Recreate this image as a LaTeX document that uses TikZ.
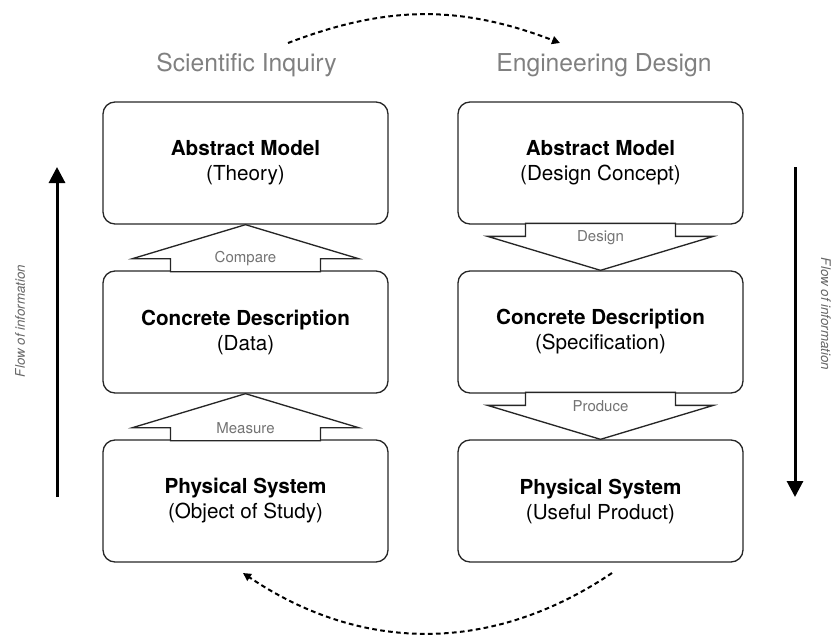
\documentclass[tikz,border=0pt]{standalone}
\usepackage{fontspec}
\setmainfont{TeX Gyre Heros}
\usepackage{tikz}
\usetikzlibrary{positioning, calc, arrows.meta}

\begin{document}
\begin{tikzpicture}[x = 0.75pt, y = -0.75pt, node distance = 34.25pt]

  \tikzstyle{module}=[rounded corners = 9pt, draw = black!85, line width = 1pt, minimum width = 213.75pt, minimum height = 91.5pt, align = center, inner sep = 0pt, font = \fontsize{15.5}{18.75}\selectfont]
  \tikzstyle{heading}=[text = black!50, font = \fontsize{18.5}{22}\selectfont, anchor = base]
  \tikzstyle{blockarrow}=[draw = black!85, line width = 1pt, fill = white, line join = miter]
  \tikzstyle{steplabel}=[text = black!55, font = \fontsize{11.25}{13}\selectfont, inner sep = 0pt]
  \tikzstyle{flow}=[line width = 2.25pt, -{Triangle[length = 12pt, width = 12pt]}]
  \tikzstyle{flowtext}=[text = black!60, font = \fontsize{10}{12}\selectfont\itshape]
  \tikzstyle{handover}=[dash pattern = on 3.5pt off 2.5pt, line width = 1.5pt, -{Triangle[length = 6pt, width = 6pt]}]

  \useasboundingbox (0, 0) rectangle (833, 636);

  \node [module] (sci-abs) at (245.5, 163) {\textbf{Abstract Model}\\(Theory)};
  \node [module, below = of sci-abs] (sci-conc) {\textbf{Concrete Description}\\(Data)};
  \node [module, below = of sci-conc] (sci-phys) {\textbf{Physical System}\\(Object of Study)};

  \node [module, right = 51.5pt of sci-abs] (eng-abs) {\textbf{Abstract Model}\\(Design Concept)};
  \node [module, below = of eng-abs] (eng-conc) {\textbf{Concrete Description}\\(Specification)};
  \node [module, below = of eng-conc] (eng-phys) {\textbf{Physical System}\\(Useful Product)};

  \node [heading] (sci-title) at (246.5, 71) {Scientific Inquiry};
  \node [heading] (eng-title) at (604, 71) {Engineering Design};

  % block arrows between the boxes
  \draw [blockarrow] (sci-abs.south) -- ++(113, 34) -- ++(-38, 0) -- ++(0, 13) -- ++(-150, 0) -- ++(0, -13) -- ++(-38, 0) -- cycle;
  \draw [blockarrow] (sci-conc.south) -- ++(113, 34) -- ++(-38, 0) -- ++(0, 13) -- ++(-150, 0) -- ++(0, -13) -- ++(-38, 0) -- cycle;
  \draw [blockarrow] (eng-conc.north) -- ++(113, -34) -- ++(-38, 0) -- ++(0, -13) -- ++(-150, 0) -- ++(0, 13) -- ++(-38, 0) -- cycle;
  \draw [blockarrow] (eng-phys.north) -- ++(113, -34) -- ++(-38, 0) -- ++(0, -13) -- ++(-150, 0) -- ++(0, 13) -- ++(-38, 0) -- cycle;

  \node [steplabel] (compare) at ($(sci-abs.south) + (0, 34)$) {Compare};
  \node [steplabel] (measure) at ($(sci-conc.south) + (0, 34)$) {Measure};
  \node [steplabel] (design) at ($(eng-conc.north) + (0, -33)$) {Design};
  \node [steplabel] (produce) at ($(eng-phys.north) + (0, -33)$) {Produce};

  % flow of information
  \coordinate (flow-up-start) at (57, 497);
  \coordinate (flow-up-end) at (57, 167);
  \coordinate (flow-down-start) at (795, 167);
  \coordinate (flow-down-end) at (795, 497);
  \draw [flow] (flow-up-start) -- (flow-up-end);
  \draw [flow] (flow-down-start) -- (flow-down-end);
  \node [flowtext, rotate = 90] (flow-up-text) at (20, 321) {Flow of information};
  \node [flowtext, rotate = -90] (flow-down-text) at (826, 314) {Flow of information};

  % dashed hand-over arcs
  \coordinate (top-start) at (288, 43);
  \coordinate (top-end) at (560, 43);
  \coordinate (bottom-start) at (612, 573);
  \coordinate (bottom-end) at (243, 573);
  \draw [handover] (top-start) to [bend left = 21] (top-end);
  \draw [handover] (bottom-start) to [bend left = 34] (bottom-end);
\end{tikzpicture}
\end{document}
